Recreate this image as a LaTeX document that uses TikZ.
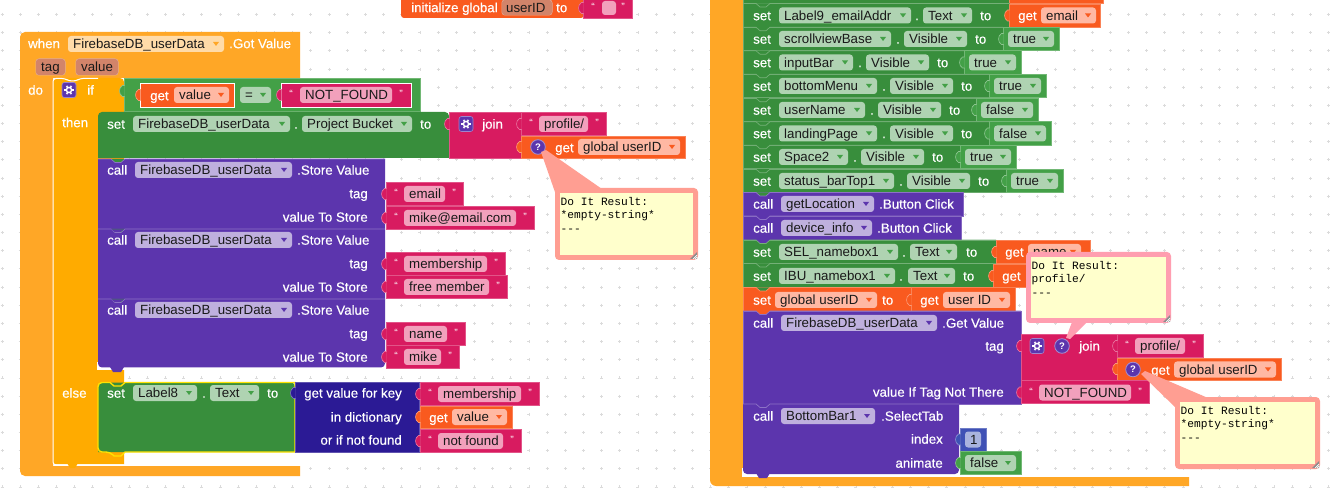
\documentclass[tikz,border=0pt]{standalone}
\usepackage{fontspec}
\setmainfont{Liberation Sans}
\newfontfamily\whitefont[FakeBold=0.4]{Liberation Sans}
\newfontfamily\tipfont{Liberation Mono}
\usetikzlibrary{positioning}

\definecolor{evtcol}{HTML}{FFA726}
\definecolor{ctlcol}{HTML}{FFAB00}
\definecolor{setcol}{HTML}{388E3C}
\definecolor{boolcol}{HTML}{43A047}
\definecolor{callcol}{HTML}{5C35AD}
\definecolor{strcol}{HTML}{D81B60}
\definecolor{varcol}{HTML}{F95A1F}
\definecolor{dictcol}{HTML}{2B1A95}
\definecolor{numcol}{HTML}{3F51B5}
\definecolor{fgreen}{HTML}{AFD3B2}
\definecolor{fpurple}{HTML}{BFB0DE}
\definecolor{forange}{HTML}{FFB8A3}
\definecolor{fpink}{HTML}{F2A0BC}
\definecolor{fevt}{HTML}{FFDBA8}
\definecolor{fvar}{HTML}{D2846A}
\definecolor{fblue}{HTML}{A9B3DE}
\definecolor{tipfill}{HTML}{FFFFCC}
\definecolor{tipsalmon}{HTML}{FF9E92}
\definecolor{tiprose}{HTML}{FF9EB0}

\tikzset{
  wlabel/.style={text=white, inner sep=0pt, font=\whitefont\fontsize{13.3}{15}\selectfont},
  blabel/.style={text=black!90, inner sep=0pt, font=\fontsize{13.3}{15}\selectfont},
  qmark/.style={text=white, inner sep=0pt, font=\fontsize{10.5}{11}\selectfont},
  tiptext/.style={text=black, inner sep=0pt, align=left, font=\tipfont\fontsize{11.2}{13.6}\selectfont},
  seamline/.style={line width=.7pt}
}

\newcounter{nn}
\newcommand{\blk}[5]{\path[fill=#1, draw=#1!75!white, line width=.6pt] (#2,#3) rectangle (#4,#5);}
\newcommand{\wlab}[3]{\stepcounter{nn}\node[wlabel, anchor=base west] (w\thenn) at (#1,#2+4.7) {#3};}
\newcommand{\wlabr}[3]{\stepcounter{nn}\node[wlabel, anchor=base east] (w\thenn) at (#1,#2+4.7) {#3};}
\newcommand{\fld}[5]{\fill[#4, rounded corners=3pt] (#1,#3-8) rectangle (#2,#3+8);
  \stepcounter{nn}\node[blabel, anchor=base west] (f\thenn) at (#1+5,#3+4.7) {#5};}
\newcommand{\vfld}[4]{\draw[fvar!65!white, line width=1pt, rounded corners=3pt] (#1,#3-8) rectangle (#2,#3+8);
  \fld{#1}{#2}{#3}{fvar}{#4}}
\newcommand{\dfld}[6]{\fld{#1}{#2}{#3}{#4}{#6}
  \fill[#5] (#2-11,#3-2) -- (#2-5,#3-2) -- (#2-8,#3+2) -- cycle;}
\newcommand{\gf}[4]{\dfld{#1}{#2}{#3}{fgreen}{boolcol}{#4}}
\newcommand{\pf}[4]{\dfld{#1}{#2}{#3}{fpurple}{callcol}{#4}}
\newcommand{\of}[4]{\dfld{#1}{#2}{#3}{forange}{varcol}{#4}}
\newcommand{\tabin}[3]{\path[fill=#3, draw=#3!60!white, line width=.6pt] (#1+.5,#2-5.5) -- (#1-1.5,#2-5.5)
  .. controls (#1-5.5,#2-3) and (#1-5.5,#2+3) .. (#1-1.5,#2+5.5) -- (#1+.5,#2+5.5);}
\newcommand{\seam}[5]{\fill[#5] (#1+13,#3) -- (#1+17,#3+3.5) -- (#1+23,#3+3.5) -- (#1+27,#3) -- cycle;
  \draw[#4, seamline] (#1,#3) -- (#1+13,#3) -- (#1+17,#3+3.5) -- (#1+23,#3+3.5) -- (#1+27,#3) -- (#2,#3);}
\newcommand{\qstr}[4]{\blk{strcol}{#1}{#3-12}{#2}{#3+11}\tabin{#1}{#3}{strcol}
  \fld{#1+18}{#2-18}{#3}{fpink}{#4}
  \stepcounter{nn}\node[qmark] (q\thenn) at (#1+10,#3-1) {“};
  \stepcounter{nn}\node[qmark] (q\thenn) at (#2-9,#3-1) {”};}
\newcommand{\gearicon}[2]{\path[fill=callcol, draw=callcol!60!white, line width=.6pt, rounded corners=2.5pt] (#1-7,#2-7.5) rectangle (#1+7,#2+7.5);
  \foreach \ga in {0,60,...,300} {\draw[white, line width=1.5pt] (#1,#2) ++(\ga:2.5) -- ++(\ga:2.3);}
  \draw[white, line width=1.4pt] (#1,#2) circle (2.6);}
\newcommand{\qicon}[2]{\path[fill=callcol, draw=callcol!55!white, line width=.8pt] (#1,#2) circle (7.3);
  \stepcounter{nn}\node[wlabel, font=\bfseries\fontsize{9.5}{10}\selectfont] (q\thenn) at (#1,#2) {?};}
\newcommand{\tipbox}[7]{\fill[#5] #6;
  \fill[#5, rounded corners=4pt] (#1,#2) rectangle (#3,#4);
  \fill[tipfill] (#1+5,#2+5) rectangle (#3-5,#4-5);
  \fill[black!45] (#3-1,#4-8) -- (#3-1,#4-1) -- (#3-8,#4-1) -- cycle;
  \draw[white, line width=.7pt] (#3-5,#4-1) -- (#3-1,#4-5) (#3-3,#4-1) -- (#3-1,#4-3);
  \stepcounter{nn}\node[tiptext, anchor=north west] (d\thenn) at (#1+5.5,#2+9) {#7};}

\begin{document}
\begin{tikzpicture}[x=1pt, y=-1pt]
\useasboundingbox[fill=white] (0,0) rectangle (1331,494);

% worksheet grid
\foreach \gx in {0,...,73} {
  \foreach \gy in {0,...,26} {
    \draw[black!14, line width=.8pt] (2+\gx*18.17-1.5,14.5+\gy*18.17) -- ++(3,0) (2+\gx*18.17,14.5+\gy*18.17-1.5) -- ++(0,3);
  }
}

% initialize global
\path[fill=varcol, rounded corners=3pt] (401,-5) rectangle (584,18);
\wlab{411}{7.5}{initialize global}
\draw[fvar!65!white, line width=1pt, rounded corners=3pt] (502,0) rectangle (552,15);
\fill[fvar, rounded corners=3pt] (502,0) rectangle (552,15);
\node[blabel, anchor=base west] (gvar) at (506,12.2) {userID};
\wlab{556}{7.5}{to}
\blk{strcol}{583}{-2}{632}{18}\tabin{583}{8}{strcol}
\fill[fpink, rounded corners=3pt] (602,1) rectangle (616,15);
\node[qmark] (qa) at (593,7) {“};
\node[qmark] (qb) at (623,7) {”};

% got value event
\fill[evtcol] (300,32) -- (300,78) -- (53,78) -- (53,466) -- (300,466) -- (300,476) [rounded corners=5pt] -- (20,476) -- (20,32) [sharp corners] -- cycle;
\wlab{28}{43.5}{when}
\dfld{68}{224}{44}{fevt}{evtcol}{FirebaseDB\_userData}
\wlab{229}{43.5}{.Got Value}
\vfld{36}{65}{67}{tag}
\vfld{76}{118}{67}{value}
\wlab{28}{90}{do}

% if then else
\path[fill=ctlcol, rounded corners=4pt] (53,464) -- (53,78) -- (124,78) [sharp corners] -- (124,464) -- cycle;
\draw[white, line width=1pt] (124,465) -- (57,465) [rounded corners=3pt] -- (53,465) -- (53,78.5) -- (65,78.5) -- (69,81) -- (76,81) -- (80,78.5) -- (98,78.5);
\fill[ctlcol] (67,463) -- (78,463) -- (75,468) -- (70,468) -- cycle;
\gearicon{69}{90}
\wlab{87}{90}{if}
\wlab{62}{122.5}{then}
\wlab{62}{393}{else}

% condition
\blk{boolcol}{124}{78}{420}{111}\tabin{124}{91}{boolcol}
\path[fill=varcol, draw=white, line width=.7pt] (140.5,83.5) rectangle (234.5,107);\tabin{140}{95}{varcol}
\wlab{150}{95.5}{get}
\of{174}{229}{95}{value}
\dfld{240}{271}{95}{fgreen}{boolcol}{=}
\path[fill=strcol, draw=white, line width=.7pt] (281,83.5) rectangle (411,107);\tabin{281}{95}{strcol}
\fld{300}{392}{95}{fpink}{NOT\_FOUND}
\node[qmark] (qc) at (291,94) {“};
\node[qmark] (qd) at (401,94) {”};

% set project bucket
\path[fill=setcol, rounded corners=4pt] (98,158) -- (98,112) -- (449,112) [sharp corners] -- (449,158) -- cycle;
\wlab{107}{124}{set}
\gf{133}{290}{124}{FirebaseDB\_userData}
\wlab{294}{124}{.}
\gf{302}{412}{124}{Project Bucket}
\wlab{420}{124}{to}
\blk{strcol}{449}{112}{521}{158}\tabin{449}{124}{strcol}
\gearicon{466}{124}
\wlab{482}{124}{join}
\qstr{521}{606}{124}{profile/}
\blk{varcol}{521}{136}{685}{158}\tabin{521}{147}{varcol}
\qicon{538}{147}
\wlab{555}{147.5}{get}
\of{578}{680}{147}{global userID}

% store value calls
\path[fill=white] (97,362) rectangle (125,370);
\path[fill=callcol, rounded corners=4pt] (98,159) -- (98,367.5) -- (385,367.5) [sharp corners] -- (385,159) -- cycle;
\fill[callcol] (110,367) -- (124,367) -- (121,372) -- (113,372) -- cycle;
\foreach \cy/\cz in {159/170, 229/240, 299/310} {
  \seam{98}{385}{\cy}{callcol!70!white}{setcol}
  \wlab{107}{\cz}{call}
  \pf{135}{292}{\cz}{FirebaseDB\_userData}
  \wlab{297}{\cz}{.Store Value}
  \wlabr{368}{\cz+23.5}{tag}
  \wlabr{368}{\cz+47}{value To Store}
}
\fill[callcol] (111,229.5) -- (124,229.5) -- (120,232) -- (115,232) -- cycle;
\fill[callcol] (111,299.5) -- (124,299.5) -- (120,302) -- (115,302) -- cycle;
\qstr{386}{463}{194}{email}
\qstr{386}{534}{218}{mike@email.com}
\qstr{386}{505}{264}{membership}
\qstr{386}{507}{287}{free member}
\qstr{386}{465}{334}{name}
\qstr{386}{459}{357}{mike}

% else branch
\fill[setcol, rounded corners=4pt] (98,452) -- (98,382.5) -- (295,382.5) [sharp corners] -- (295,452) -- cycle;
\draw[yellow!85!orange, line width=1.4pt] (295,382.5) -- (125,382.5) -- (121,386) -- (114,386) -- (110,382.5) [rounded corners=4pt] -- (98,382.5) -- (98,452) -- (110,452) [sharp corners] -- (114,456) -- (121,456) -- (125,452) -- (295,452) -- cycle;
\wlab{107}{393}{set}
\gf{133}{197}{393}{Label8}
\wlab{202}{393}{.}
\gf{210}{259}{393}{Text}
\wlab{267}{393}{to}
\blk{dictcol}{295}{382.5}{419}{452}\tabin{295}{393}{dictcol}
\wlabr{402}{393}{get value for key}
\wlabr{402}{417}{in dictionary}
\wlabr{402}{440}{or if not found}
\qstr{420}{539}{394}{membership}
\blk{varcol}{420}{406}{512}{428}\tabin{420}{417}{varcol}
\wlab{429}{417.5}{get}
\of{452}{507}{417}{value}
\qstr{420}{521}{441}{not found}

% right hand event
\fill[evtcol] (743,-5) -- (743,477) -- (1189,477) -- (1189,486) [rounded corners=6pt] -- (710,486) [sharp corners] -- (710,-5) -- cycle;

\blk{setcol}{743}{-2}{1009}{3.5}
\blk{varcol}{1009}{-2}{1103}{3.5}
\blk{setcol}{743}{3.5}{1009}{27}
\seam{743}{1009}{3.5}{setcol!70!white}{setcol}
\wlab{753}{15.5}{set}
\gf{779}{911}{15.5}{Label9\_emailAddr}
\wlab{915}{15.5}{.}
\gf{923}{972}{15.5}{Text}
\wlab{980}{15.5}{to}
\blk{varcol}{1009}{4}{1100}{27}\tabin{1009}{15.5}{varcol}
\wlab{1018}{15.5}{get}
\of{1041}{1096}{15.5}{email}

\foreach \ry/\rname/\rf/\rv/\rend/\rtxt in {
  39/scrollviewBase/891/1003/1059/true,
  62.5/inputBar/853/964/1021/true,
  86/bottomMenu/877/989/1046/true,
  110/userName/865/976/1038/false,
  133.5/landingPage/877/989/1051/false,
  157/Space2/848/960/1016/true,
  181/status\_barTop1/894/1006/1063/true} {
  \blk{setcol}{743}{\ry-11.8}{\rv}{\ry+11.8}
  \seam{743}{\rv}{\ry-11.8}{setcol!70!white}{setcol}
  \wlab{753}{\ry}{set}
  \gf{779}{\rf}{\ry}{\rname}
  \wlab{\rf+5}{\ry}{.}
  \gf{\rf+13}{\rf+76}{\ry}{Visible}
  \wlab{\rf+84}{\ry}{to}
  \blk{boolcol}{\rv}{\ry-11.8}{\rend}{\ry+11.8}\tabin{\rv}{\ry}{boolcol}
  \gf{\rv+5}{\rend-5}{\ry}{\rtxt}
}

\blk{callcol}{743}{192.5}{963}{216}
\seam{743}{963}{192.5}{callcol!70!white}{setcol}
\wlab{753}{204}{call}
\pf{781}{874}{204}{getLocation}
\wlab{879}{204}{.Button Click}
\blk{callcol}{743}{216}{961}{240}
\seam{743}{961}{216}{callcol!70!white}{callcol}
\wlab{753}{228}{call}
\pf{781}{872}{228}{device\_info}
\wlab{877}{228}{.Button Click}

\blk{setcol}{743}{240}{996}{263.5}
\seam{743}{996}{240}{setcol!70!white}{callcol}
\wlab{753}{252}{set}
\gf{779}{898}{252}{SEL\_namebox1}
\wlab{902}{252}{.}
\gf{910}{957}{252}{Text}
\wlab{966}{252}{to}
\blk{varcol}{996}{240}{1090}{263.5}\tabin{996}{252}{varcol}
\wlab{1005}{252}{get}
\of{1028}{1081}{252}{name}

\blk{setcol}{743}{263.5}{993}{287}
\seam{743}{993}{263.5}{setcol!70!white}{setcol}
\wlab{753}{276}{set}
\gf{779}{895}{276}{IBU\_namebox1}
\wlab{899}{276}{.}
\gf{908}{955}{276}{Text}
\wlab{963}{276}{to}
\blk{varcol}{993}{264}{1092}{287}\tabin{993}{276}{varcol}
\wlab{1002}{276}{get}

\blk{varcol}{743}{287.5}{911}{311}
\seam{743}{911}{287.5}{varcol!70!white}{setcol}
\wlab{753}{300}{set}
\of{775}{877}{300}{global userID}
\wlab{882}{300}{to}
\blk{varcol}{911}{287.5}{1015}{311}\tabin{911}{300}{varcol}
\wlab{920}{300}{get}
\of{943}{1010}{300}{user ID}

% get value call
\blk{callcol}{743}{311}{1021}{404}
\seam{743}{1021}{311}{callcol!70!white}{varcol}
\wlab{753}{323}{call}
\pf{781}{937}{323}{FirebaseDB\_userData}
\wlab{942}{323}{.Get Value}
\wlabr{1004}{346}{tag}
\wlabr{1004}{392}{value If Tag Not There}
\blk{strcol}{1021}{334}{1117}{380}\tabin{1021}{346}{strcol}
\gearicon{1037}{346}
\qicon{1062}{346}
\wlab{1079}{346}{join}
\qstr{1117}{1203}{346}{profile/}
\blk{varcol}{1117}{358}{1281}{380}\tabin{1117}{369}{varcol}
\qicon{1133}{369.5}
\wlab{1151}{370}{get}
\of{1174}{1276}{369.5}{global userID}
\qstr{1021}{1149}{392.5}{NOT\_FOUND}

% select tab call
\fill[white] (742,468) rectangle (775,477);
\path[fill=callcol, rounded corners=4pt] (743,404) -- (743,474) -- (959,474) [sharp corners] -- (959,404) -- cycle;
\fill[callcol] (756,473) -- (770,473) -- (767,478) -- (759,478) -- cycle;
\seam{743}{959}{404}{callcol!70!white}{callcol}
\wlab{753}{416}{call}
\pf{781}{875}{416}{BottomBar1}
\wlab{881}{416}{.SelectTab}
\wlabr{943}{439}{index}
\wlabr{943}{463}{animate}
\blk{numcol}{960}{428}{986}{451}\tabin{960}{439.5}{numcol}
\fld{965}{981}{439.5}{fblue}{1}
\blk{boolcol}{960}{451.5}{1021}{474}\tabin{960}{463}{boolcol}
\gf{965}{1016}{463}{false}

% do it results
\tipbox{555}{188}{698}{260}{tipsalmon}{(541,152) -- (556,195) -- (602,189) -- (546,150) -- cycle}{Do It Result:\\*empty-string*\\---}
\tipbox{1026}{252}{1171}{323}{tiprose}{(1066,338) -- (1072,322) -- (1087,322) -- (1070,339) -- cycle}{Do It Result:\\profile/\\---}
\tipbox{1175}{397}{1320}{469}{tipsalmon}{(1141,374) -- (1176,408) -- (1208,398) -- (1145,371) -- cycle}{Do It Result:\\*empty-string*\\---}
\end{tikzpicture}
\end{document}
